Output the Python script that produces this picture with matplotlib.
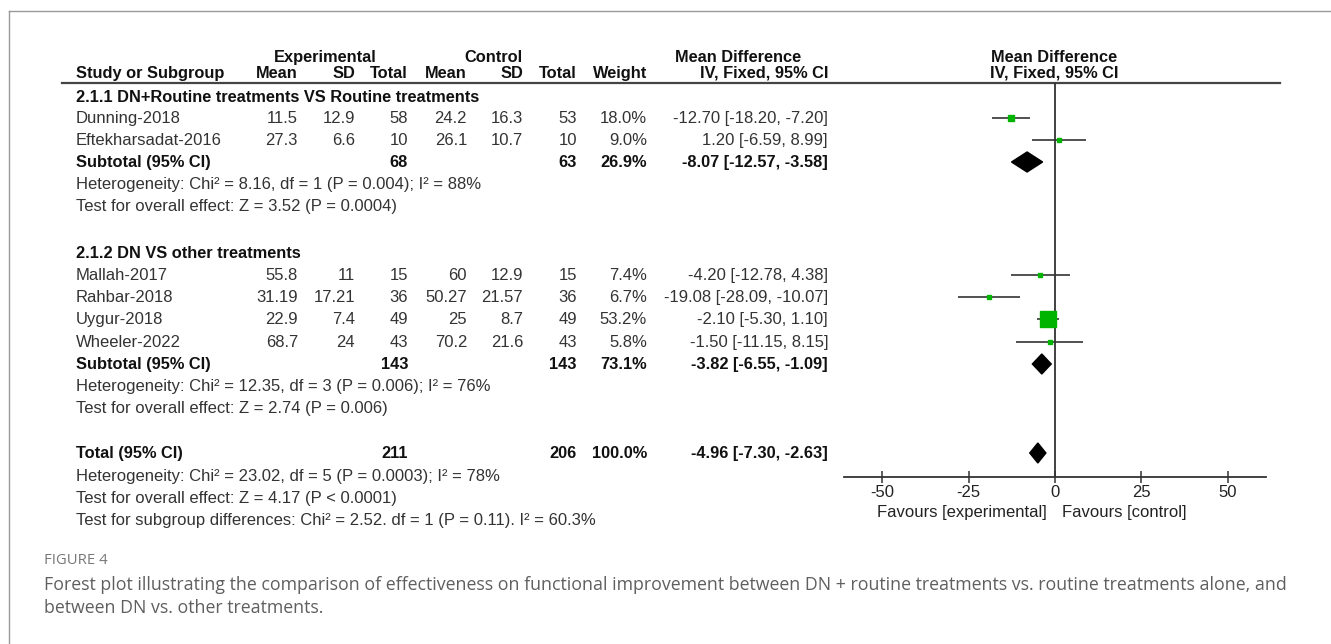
import matplotlib
matplotlib.use("Agg")
import matplotlib.pyplot as plt
from matplotlib.patches import Polygon

plt.rcParams["axes.unicode_minus"] = False

# ---- data ---------------------------------------------------------------
studies = ["Dunning-2018", "Eftekharsadat-2016",
           "Mallah-2017", "Rahbar-2018", "Uygur-2018", "Wheeler-2022"]
exp_mean = [11.5, 27.3, 55.8, 31.19, 22.9, 68.7]
exp_sd = [12.9, 6.6, 11, 17.21, 7.4, 24]
exp_n = [58, 10, 15, 36, 49, 43]
ctl_mean = [24.2, 26.1, 60, 50.27, 25, 70.2]
ctl_sd = [16.3, 10.7, 12.9, 21.57, 8.7, 21.6]
ctl_n = [53, 10, 15, 36, 49, 43]
weight = [18.0, 9.0, 7.4, 6.7, 53.2, 5.8]
md = [-12.70, 1.20, -4.20, -19.08, -2.10, -1.50]
md_lo = [-18.20, -6.59, -12.78, -28.09, -5.30, -11.15]
md_hi = [-7.20, 8.99, 4.38, -10.07, 1.10, 8.15]

groups = ["2.1.1 DN+Routine treatments VS Routine treatments",
          "2.1.2 DN VS other treatments"]
grp_n_exp = [68, 143]
grp_n_ctl = [63, 143]
grp_weight = [26.9, 73.1]
grp_md = [-8.07, -3.82]
grp_lo = [-12.57, -6.55]
grp_hi = [-3.58, -1.09]
grp_het = ["Heterogeneity: Chi\u00b2 = 8.16, df = 1 (P = 0.004); I\u00b2 = 88%",
           "Heterogeneity: Chi\u00b2 = 12.35, df = 3 (P = 0.006); I\u00b2 = 76%"]
grp_test = ["Test for overall effect: Z = 3.52 (P = 0.0004)",
            "Test for overall effect: Z = 2.74 (P = 0.006)"]

tot_n_exp, tot_n_ctl, tot_weight = 211, 206, 100.0
tot_md, tot_lo, tot_hi = -4.96, -7.30, -2.63
tot_notes = ["Heterogeneity: Chi\u00b2 = 23.02, df = 5 (P = 0.0003); I\u00b2 = 78%",
             "Test for overall effect: Z = 4.17 (P < 0.0001)",
             "Test for subgroup differences: Chi\u00b2 = 2.52. df = 1 (P = 0.11). I\u00b2 = 60.3%"]

ticks = [-50, -25, 0, 25, 50]
caption_title = "FIGURE 4"
caption = ["Forest plot illustrating the comparison of effectiveness on functional improvement "
           "between DN + routine treatments vs. routine treatments alone, and",
           "between DN vs. other treatments."]

# ---- layout (pixels) ----------------------------------------------------
W, H = 1331, 644
COLS = [298, 355, 408, 467, 523, 577, 647, 828]   # right edges of numeric columns
NAME_X = 76
GROUP_Y = [97, 253]
STUDY_Y = [118, 140, 275, 297, 319, 342]
SUB_Y = [162, 364]
NOTE_Y = [[184, 206], [386, 408]]
TOTAL_Y = 453
TOTAL_NOTE_Y = [476, 498, 520]
AX_TOP, AX_BOT, AX_L, AX_R = 83, 477, 844, 1266

FONT = "Liberation Sans"
FS, FSB = 12, 11.8
REG, BLD = "#333333", "#111111"

fig = plt.figure(figsize=(W / 100, H / 100), dpi=100)
tab = fig.add_axes([0, 0, 1, 1])
tab.set_xlim(0, W)
tab.set_ylim(H, 0)
tab.axis("off")


def txt(x, y, s, ha="left", bold=False, **kw):
    tab.text(x, y, s, ha=ha, va="center",
             fontsize=kw.pop("fontsize", FSB if bold else FS),
             family=kw.pop("family", FONT), fontweight="bold" if bold else "normal",
             color=kw.pop("color", BLD if bold else REG), **kw)


# frame
tab.plot([9, W], [11, 11], color="#999999", lw=1)
tab.plot([9, 9], [11, H], color="#999999", lw=1)

# headers
txt(325, 57, "Experimental", ha="center", bold=True)
txt(493, 57, "Control", ha="center", bold=True)
txt(738, 57, "Mean Difference", ha="center", bold=True)
txt(1054, 57, "Mean Difference", ha="center", bold=True)
txt(NAME_X, 73, "Study or Subgroup", bold=True)
for x, h in zip(COLS, ["Mean", "SD", "Total", "Mean", "SD", "Total", "Weight",
                       "IV, Fixed, 95% CI"]):
    txt(x, 73, h, ha="right", bold=True)
txt(1054, 73, "IV, Fixed, 95% CI", ha="center", bold=True)
tab.plot([62, 1280], [AX_TOP, AX_TOP], color="#444444", lw=1.6)

# study rows
for i, name in enumerate(studies):
    y = STUDY_Y[i]
    txt(NAME_X, y, name)
    vals = [f"{exp_mean[i]:g}", f"{exp_sd[i]:g}", str(exp_n[i]),
            f"{ctl_mean[i]:g}", f"{ctl_sd[i]:g}", str(ctl_n[i]),
            f"{weight[i]:.1f}%",
            f"{md[i]:.2f} [{md_lo[i]:.2f}, {md_hi[i]:.2f}]"]
    for x, v in zip(COLS, vals):
        txt(x, y, v, ha="right")

# subgroup rows
for g, gname in enumerate(groups):
    txt(NAME_X, GROUP_Y[g], gname, bold=True)
    y = SUB_Y[g]
    txt(NAME_X, y, "Subtotal (95% CI)", bold=True)
    txt(COLS[2], y, str(grp_n_exp[g]), ha="right", bold=True)
    txt(COLS[5], y, str(grp_n_ctl[g]), ha="right", bold=True)
    txt(COLS[6], y, f"{grp_weight[g]:.1f}%", ha="right", bold=True)
    txt(COLS[7], y, f"{grp_md[g]:.2f} [{grp_lo[g]:.2f}, {grp_hi[g]:.2f}]",
        ha="right", bold=True)
    txt(NAME_X, NOTE_Y[g][0], grp_het[g])
    txt(NAME_X, NOTE_Y[g][1], grp_test[g])

# total
txt(NAME_X, TOTAL_Y, "Total (95% CI)", bold=True)
txt(COLS[2], TOTAL_Y, str(tot_n_exp), ha="right", bold=True)
txt(COLS[5], TOTAL_Y, str(tot_n_ctl), ha="right", bold=True)
txt(COLS[6], TOTAL_Y, f"{tot_weight:.1f}%", ha="right", bold=True)
txt(COLS[7], TOTAL_Y, f"{tot_md:.2f} [{tot_lo:.2f}, {tot_hi:.2f}]", ha="right", bold=True)
for y, s in zip(TOTAL_NOTE_Y, tot_notes):
    txt(NAME_X, y, s)

# caption
txt(44, 561, caption_title, family="Open Sans", fontsize=10.7, color="#777777")
for y, s in zip([585, 608], caption):
    txt(44, y, s, family="Open Sans", fontsize=12.75, color="#5f5f5f")

# ---- forest panel -------------------------------------------------------
ax = fig.add_axes([AX_L / W, 1 - AX_BOT / H, (AX_R - AX_L) / W, (AX_BOT - AX_TOP) / H])
ax.set_xlim(-61, 61)
ax.set_ylim(AX_BOT, AX_TOP)
ax.patch.set_alpha(0)
for s in ["top", "left", "right"]:
    ax.spines[s].set_visible(False)
ax.spines["bottom"].set_color("#333333")
ax.spines["bottom"].set_linewidth(1.3)
ax.set_yticks([])
ax.set_xticks(ticks)
ax.tick_params(axis="x", direction="inout", length=9, width=1.1, color="#333333",
               labelsize=FS, labelcolor="#222222", pad=1)
for lab in ax.get_xticklabels():
    lab.set_family(FONT)
ax.axvline(0, color="#333333", lw=1.3)

for i in range(len(studies)):
    y = STUDY_Y[i]
    ax.hlines(y, md_lo[i], md_hi[i], color="#333333", lw=1.2, zorder=2)
    side = (0.27 * weight[i] + 2) * 0.72
    ax.plot(md[i], y, marker="s", markersize=side, color="#00b400",
            markeredgecolor="#00b400", zorder=3)


def diamond(m, lo, hi, y, half=10):
    ax.add_patch(Polygon([(lo, y), (m, y - half), (hi, y), (m, y + half)],
                         closed=True, facecolor="black", edgecolor="black", zorder=3))


for g in range(len(groups)):
    diamond(grp_md[g], grp_lo[g], grp_hi[g], SUB_Y[g])
diamond(tot_md, tot_lo, tot_hi, TOTAL_Y)

ax.text(-2.5, 513, "Favours [experimental]", ha="right", va="center", fontsize=FS,
        family=FONT, color="#222222", clip_on=False)
ax.text(2, 513, "Favours [control]", ha="left", va="center", fontsize=FS,
        family=FONT, color="#222222", clip_on=False)

fig.savefig("out.png", dpi=100)
